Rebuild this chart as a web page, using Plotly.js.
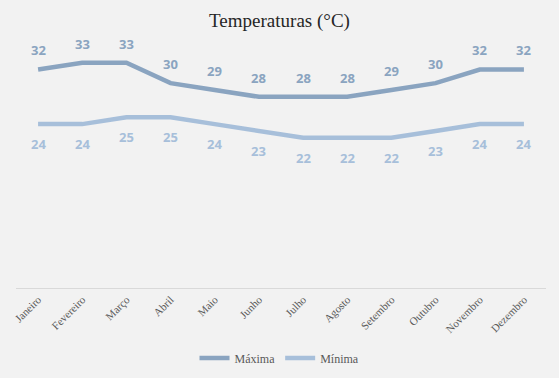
<!DOCTYPE html>
<html>
<head>
<meta charset="utf-8">
<script src="https://cdn.plot.ly/plotly-3.0.1.min.js"></script>
<style>html,body{margin:0;padding:0;background:#f2f2f2;}#chart{width:559px;height:378px;}</style>
</head>
<body>
<div id="chart"></div>
<script>
const months = ["Janeiro","Fevereiro","Março","Abril","Maio","Junho","Julho","Agosto","Setembro","Outubro","Novembro","Dezembro"];
const maxima = [32,33,33,30,29,28,28,28,29,30,32,32];
const minima = [24,24,25,25,24,23,22,22,22,23,24,24];
const seriesNames = ["Máxima","Mínima"];
const colMax = "#8aa4c0";
const colMin = "#a7bfda";

const traces = [
  {x: months, y: maxima, name: seriesNames[0], type: "scatter", mode: "lines",
   line: {color: colMax, width: 4.5}},
  {x: months, y: minima, name: seriesNames[1], type: "scatter", mode: "lines",
   line: {color: colMin, width: 4.5}}
];
const annotations = [];
months.forEach((m, i) => {
  annotations.push({x: m, y: maxima[i], text: String(maxima[i]), showarrow: false, yshift: 19,
    font: {family: "Open Sans, Arial, sans-serif", size: 13, color: colMax, weight: "bold"}});
  annotations.push({x: m, y: minima[i], text: String(minima[i]), showarrow: false, yshift: -20,
    font: {family: "Open Sans, Arial, sans-serif", size: 13, color: colMin, weight: "bold"}});
});
const layout = {
  width: 559, height: 378,
  paper_bgcolor: "#f2f2f2", plot_bgcolor: "#f2f2f2",
  margin: {l: 16, r: 13, t: 49, b: 90},
  title: {text: "Temperaturas (°C)", x: 0.5, xanchor: "center", y: 0.947, yanchor: "middle",
    font: {family: "Liberation Serif, serif", size: 19, color: "#262626"}},
  xaxis: {type: "category", range: [-0.5, 11.5], showline: true, linecolor: "#d9d9d9", linewidth: 1, showgrid: false,
    ticks: "", tickangle: -45, zeroline: false, automargin: false,
    tickfont: {family: "Liberation Serif, serif", size: 11, color: "#595959"}},
  yaxis: {range: [0, 35], visible: false, showgrid: false, zeroline: false, automargin: false},
  showlegend: true,
  legend: {orientation: "h", x: 0.5, xanchor: "center", xref: "container", y: 0.053, yanchor: "middle", yref: "container",
    font: {family: "Liberation Serif, serif", size: 12, color: "#595959"}},
  annotations: annotations
};
Plotly.newPlot("chart", traces, layout, {displayModeBar: false, staticPlot: true});
</script>
</body>
</html>
